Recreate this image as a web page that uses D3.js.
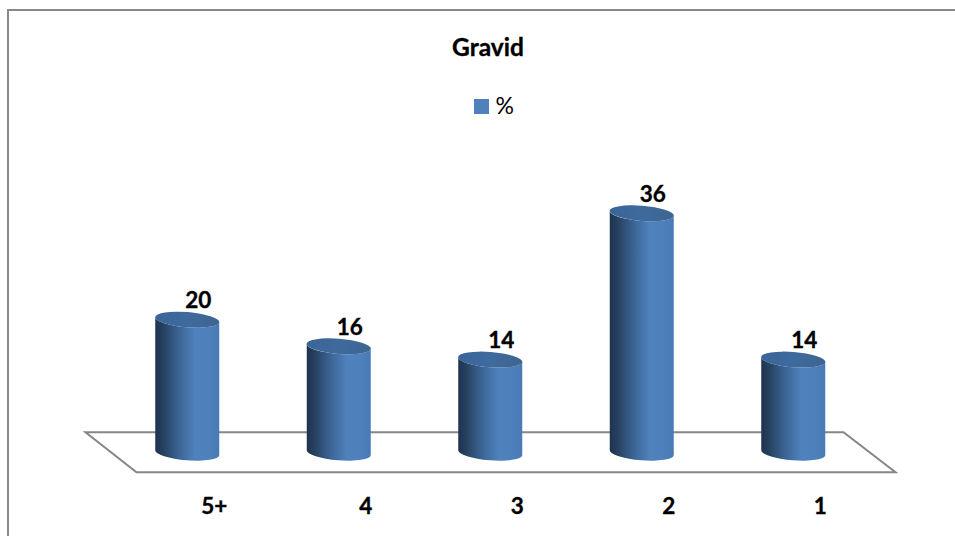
<!DOCTYPE html>
<html>
<head>
<meta charset="utf-8">
<script src="https://cdn.jsdelivr.net/npm/d3@7"></script>
<style>
  html, body { margin: 0; padding: 0; background: #fff; }
  svg { display: block; }
  text { font-family: Lato, "Open Sans", sans-serif; font-weight: 700; fill: #000; }
  text.heavy { stroke: #000; stroke-width: 0.35; }
</style>
</head>
<body>
<script>
// Gravidity distribution, drawn as 3D-style cylinders on a floor plane
const categories = ["5+", "4", "3", "2", "1"];
const percentValues = [20, 16, 14, 36, 14];
const seriesName = "%";
const chartTitle = "Gravid";

const width = 955, height = 536;
const svg = d3.select("body").append("svg").attr("width", width).attr("height", height);

const x = d3.scaleBand().domain(categories).range([111.5, 869]).paddingInner(0).paddingOuter(0);
const y = d3.scaleLinear().domain([0, 36]).range([452.7, 213.3]);

const rx = 32, ry = 7.6, tilt = 4.5;
const slope = Math.tan(tilt * Math.PI / 180) * rx;

const defs = svg.append("defs");
const body = defs.append("linearGradient").attr("id", "cyl-body");
[[0, "#1f3250"], [0.12, "#26405f"], [0.35, "#3a6290"], [0.62, "#4f81bd"], [0.85, "#4e80bc"], [1, "#487ab5"]]
  .forEach(([o, c]) => body.append("stop").attr("offset", o).attr("stop-color", c));
const cap = defs.append("linearGradient").attr("id", "cyl-cap");
[[0, "#3a6599"], [0.5, "#3f6a9d"], [1, "#3d6590"]]
  .forEach(([o, c]) => cap.append("stop").attr("offset", o).attr("stop-color", c));

// Chart frame: only the top and left edges fall inside the page
svg.append("path")
  .attr("d", d3.line()([[8, height], [8, 10], [width, 10]]))
  .attr("fill", "none").attr("stroke", "#898989").attr("stroke-width", 2);

// Floor plane
const floorTop = 432.3, floorBottom = 472.3;
svg.append("path")
  .attr("d", d3.line()([[85.5, floorTop], [843.5, floorTop], [895.5, floorBottom], [136.5, floorBottom]]) + "Z")
  .attr("fill", "#fff").attr("stroke", "#868686").attr("stroke-width", 2);

// Cylinders
const centre = c => x(c) + x.bandwidth() / 2;
const marks = svg.append("g").selectAll("g")
  .data(categories.map((c, i) => ({ c, v: percentValues[i] })))
  .join("g");

marks.append("path")
  .attr("fill", "url(#cyl-body)")
  .attr("d", d => {
    const cx = centre(d.c), t = y(d.v), b = y(0);
    return `M${cx - rx},${t - slope} L${cx - rx},${b - slope}` +
      `A${rx},${ry} ${tilt} 0 0 ${cx + rx},${b + slope}` +
      `L${cx + rx},${t + slope}` +
      `A${rx},${ry} ${tilt} 0 1 ${cx - rx},${t - slope}Z`;
  });

marks.append("ellipse")
  .attr("fill", "url(#cyl-cap)")
  .attr("rx", rx + 0.2).attr("ry", ry)
  .attr("transform", d => `translate(${centre(d.c)},${y(d.v)}) rotate(${tilt})`);

// Value labels above each cylinder
marks.append("text")
  .attr("class", "heavy")
  .attr("x", d => centre(d.c) + 11)
  .attr("y", d => y(d.v) - 11.7)
  .attr("text-anchor", "middle")
  .attr("font-size", 22.5)
  .text(d => d.v);

// Category labels
svg.append("g").selectAll("text")
  .data(categories)
  .join("text")
  .attr("class", "heavy")
  .attr("x", d => centre(d) + 27)
  .attr("y", 513.5)
  .attr("text-anchor", "middle")
  .attr("font-size", 22.5)
  .text(d => d);

// Title
svg.append("text").attr("class", "heavy").attr("x", 488).attr("y", 56).attr("text-anchor", "middle")
  .attr("font-size", 24.5).text(chartTitle);

// Legend
svg.append("rect").attr("x", 474).attr("y", 99).attr("width", 15).attr("height", 15).attr("fill", "#4f81bd");
svg.append("text").attr("x", 495.5).attr("y", 113.5).attr("font-size", 23).style("font-weight", 400).text(seriesName);
</script>
</body>
</html>
